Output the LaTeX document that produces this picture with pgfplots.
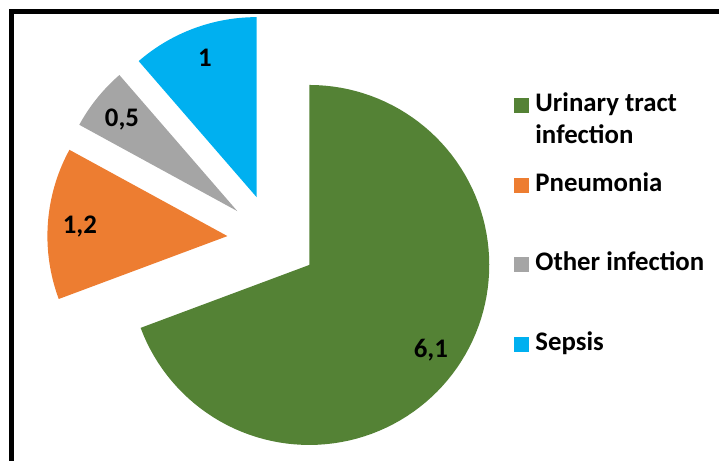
\documentclass[border=0pt]{standalone}
\usepackage{fontspec}
\setmainfont{Carlito}
\usepackage{pgfplots}
\usepackage{pgfplotstable}
\pgfplotsset{compat=1.18}
\definecolor{cUTI}{HTML}{548235}
\definecolor{cPneu}{HTML}{ED7D31}
\definecolor{cOther}{HTML}{A5A5A5}
\definecolor{cSep}{HTML}{00B0F0}

\pgfplotstableread{
name value
UTI 6.1
Pneumonia 1.2
Other 0.5
Sepsis 1
}\pietable

\newcommand\pieslice[5]{%
  \addplot[fill=#1, draw=none, samples at={-1,0,1,...,100}, variable=\t]
  ({#4+(\t>=0)*\Rr*cos((#2)+((#3)-(#2))*\t/100)},
   {#5+(\t>=0)*\Rr*sin((#2)+((#3)-(#2))*\t/100)});}

\newcommand\lblfont{\bfseries\fontsize{13.4}{15.8}\selectfont}

\begin{document}
\begin{tikzpicture}
\pgfplotstablegetelem{0}{value}\of\pietable\let\vA\pgfplotsretval
\pgfplotstablegetelem{1}{value}\of\pietable\let\vB\pgfplotsretval
\pgfplotstablegetelem{2}{value}\of\pietable\let\vC\pgfplotsretval
\pgfplotstablegetelem{3}{value}\of\pietable\let\vD\pgfplotsretval
\def\cx{272.3}\def\cy{221.7}\def\Rr{180}\def\dd{45}\def\lr{148}
\pgfmathsetmacro{\tot}{\vA+\vB+\vC+\vD}
\pgfmathsetmacro{\sA}{90}
\pgfmathsetmacro{\eA}{\sA-360*\vA/\tot}
\pgfmathsetmacro{\eB}{\eA-360*\vB/\tot}
\pgfmathsetmacro{\eC}{\eB-360*\vC/\tot}
\pgfmathsetmacro{\eD}{\eC-360*\vD/\tot}
\pgfmathsetmacro{\mA}{(\sA+\eA)/2}
\pgfmathsetmacro{\mB}{(\eA+\eB)/2}
\pgfmathsetmacro{\mC}{(\eB+\eC)/2}
\pgfmathsetmacro{\mD}{(\eC+\eD)/2}
\pgfmathsetmacro{\xA}{\cx+\dd*cos(\mA)}\pgfmathsetmacro{\yA}{\cy+\dd*sin(\mA)}
\pgfmathsetmacro{\xB}{\cx+\dd*cos(\mB)}\pgfmathsetmacro{\yB}{\cy+\dd*sin(\mB)}
\pgfmathsetmacro{\xC}{\cx+\dd*cos(\mC)}\pgfmathsetmacro{\yC}{\cy+\dd*sin(\mC)}
\pgfmathsetmacro{\xD}{\cx+\dd*cos(\mD)}\pgfmathsetmacro{\yD}{\cy+\dd*sin(\mD)}
\pgfmathsetmacro{\lxA}{\xA+\lr*cos(\mA)}\pgfmathsetmacro{\lyA}{\yA+\lr*sin(\mA)}
\pgfmathsetmacro{\lxB}{\xB+\lr*cos(\mB)}\pgfmathsetmacro{\lyB}{\yB+\lr*sin(\mB)}
\pgfmathsetmacro{\lxC}{\xC+\lr*cos(\mC)}\pgfmathsetmacro{\lyC}{\yC+\lr*sin(\mC)}
\pgfmathsetmacro{\lxD}{\xD+\lr*cos(\mD)}\pgfmathsetmacro{\lyD}{\yD+\lr*sin(\mD)}
\begin{axis}[
  hide axis, scale only axis,
  width=359.5pt, height=230.5pt,
  xmin=0, xmax=719, ymin=0, ymax=461,
  clip=false,
  legend cell align=left,
  legend image code/.code={\path[#1] (0pt,-3.25pt) rectangle (7.5pt,4.25pt);},
  legend style={draw=none, fill=none, at={(axis cs:514,365.3)}, anchor=north west,
    inner sep=0pt, outer sep=0pt, row sep=28.8pt,
    font=\lblfont,
    nodes={inner sep=0pt, text height=8pt, text depth=3pt},
    /tikz/every odd column/.append style={column sep=3.2pt}},
]
\pieslice{cUTI}{\sA}{\eA}{\xA}{\yA}
\addlegendentry{\begin{tabular}[t]{@{}l@{}}Urinary tract\\infection\end{tabular}}
\pieslice{cPneu}{\eA}{\eB}{\xB}{\yB}
\addlegendentry{Pneumonia}
\pieslice{cOther}{\eB}{\eC}{\xC}{\yC}
\addlegendentry{Other infection}
\pieslice{cSep}{\eC}{\eD}{\xD}{\yD}
\addlegendentry{Sepsis}
\node[font=\lblfont, text height=8.4pt, text depth=0pt, inner sep=0pt] at (axis cs:\lxA,\lyA) {\pgfmathprintnumber[use comma,assume math mode=true]{\vA}};
\node[font=\lblfont, text height=8.4pt, text depth=0pt, inner sep=0pt] at (axis cs:\lxB,\lyB) {\pgfmathprintnumber[use comma,assume math mode=true]{\vB}};
\node[font=\lblfont, text height=8.4pt, text depth=0pt, inner sep=0pt] at (axis cs:\lxC,\lyC) {\pgfmathprintnumber[use comma,assume math mode=true]{\vC}};
\node[font=\lblfont, text height=8.4pt, text depth=0pt, inner sep=0pt] at (axis cs:\lxD,\lyD) {\pgfmathprintnumber[use comma,assume math mode=true]{\vD}};
\draw[line width=2.5pt] (axis cs:11.7,0) -- (axis cs:11.7,449.3) -- (axis cs:719,449.3);
\coordinate (BL) at (axis cs:0,0);
\coordinate (TR) at (axis cs:719,461);
\end{axis}
\pgfresetboundingbox
\path (BL) rectangle (TR);
\end{tikzpicture}
\end{document}
